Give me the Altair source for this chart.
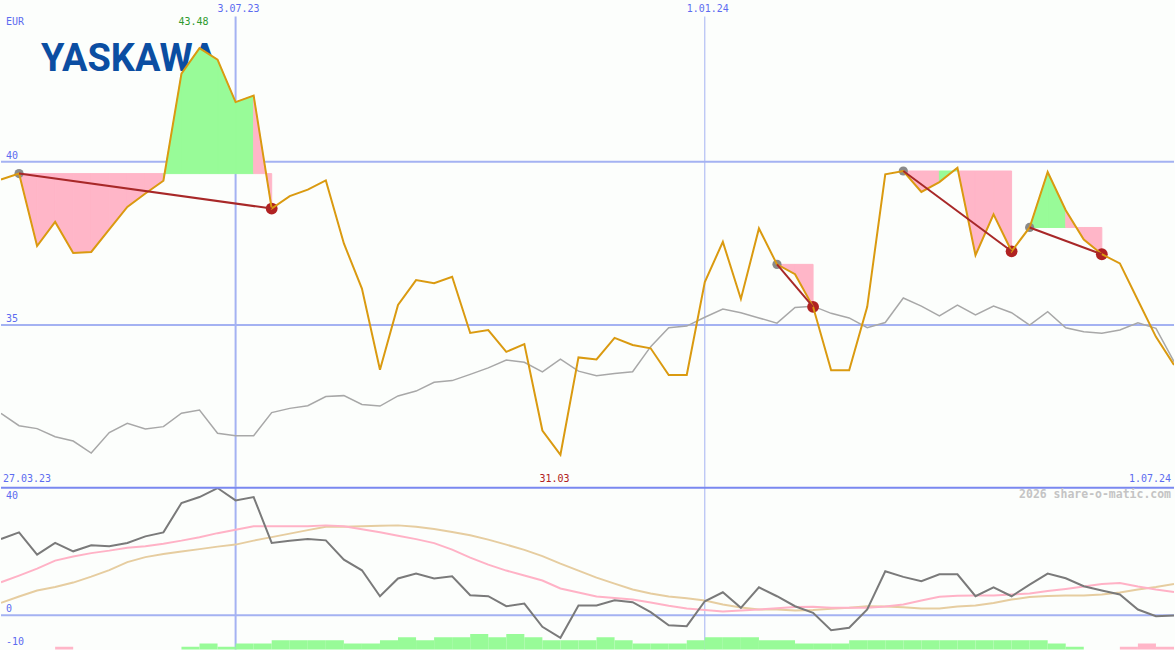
import altair as alt
import pandas as pd

# ---------------- weekly data (first week starts 3 Apr 2023) ----------------
price = [39.46, 39.64, 37.42, 38.16, 37.21, 37.24, 37.93, 38.62, 39.03, 39.42,
         42.70, 43.48, 43.13, 41.83, 42.03, 38.57, 38.95, 39.15, 39.43, 37.50,
         36.12, 33.63, 35.62, 36.38, 36.28, 36.48, 34.76, 34.85, 34.18, 34.42,
         31.77, 31.03, 34.01, 33.95, 34.61, 34.39, 34.29, 33.47, 33.47, 36.32,
         37.55, 35.80, 37.96, 36.86, 36.56, 35.56, 33.62, 33.62, 35.56, 39.62,
         39.72, 39.08, 39.38, 39.82, 37.14, 38.39, 37.26, 37.99, 39.69, 38.52,
         37.62, 37.17, 36.89, 35.76, 34.64, 33.78]

bench = [32.30, 31.92, 31.83, 31.58, 31.45, 31.08, 31.71, 31.99, 31.82, 31.89,
         32.30, 32.40, 31.69, 31.61, 31.61, 32.32, 32.45, 32.53, 32.81, 32.84,
         32.57, 32.52, 32.83, 32.98, 33.25, 33.30, 33.49, 33.69, 33.93, 33.86,
         33.57, 33.96, 33.59, 33.45, 33.52, 33.57, 34.34, 34.92, 34.97, 35.24,
         35.49, 35.38, 35.22, 35.06, 35.54, 35.58, 35.36, 35.22, 34.92, 35.08,
         35.83, 35.58, 35.28, 35.61, 35.31, 35.58, 35.38, 35.00, 35.41, 34.92,
         34.80, 34.75, 34.85, 35.07, 34.90, 33.88]

osc = [23.84, 25.90, 18.94, 22.59, 19.97, 21.84, 21.53, 22.59, 24.65, 25.90,
       35.07, 36.94, 39.75, 35.88, 36.94, 22.59, 23.31, 23.84, 23.40, 17.38,
       14.04, 5.93, 11.50, 13.01, 11.45, 12.17, 6.24, 5.93, 2.81, 3.65,
       -3.62, -7.05, 3.03, 3.03, 4.68, 4.06, 0.94, -3.12, -3.43, 4.37,
       7.18, 2.31, 8.74, 5.93, 2.81, 0.75, -4.68, -3.93, 1.78, 13.73,
       11.98, 10.61, 12.79, 12.79, 5.93, 8.74, 5.93, 9.58, 13.01, 11.54,
       9.05, 7.71, 6.46, 1.78, -0.31, -0.09]

osc_fast = [10.30, 12.39, 14.57, 17.07, 18.32, 19.41, 20.19, 21.12, 21.59, 22.37,
            23.31, 24.40, 25.65, 26.74, 27.77, 27.77, 27.77, 27.83, 28.08, 27.83,
            26.90, 25.96, 24.87, 23.78, 22.53, 20.50, 18.00, 15.82, 13.95, 12.39,
            10.83, 8.35, 7.10, 5.85, 5.38, 4.91, 3.98, 2.93, 2.09, 1.62,
            1.15, 1.47, 1.78, 2.18, 2.56, 2.62, 2.34, 2.31, 2.34, 2.71,
            3.34, 4.59, 5.74, 6.05, 6.15, 6.15, 6.46, 6.77, 7.55, 8.21,
            8.96, 9.73, 10.05, 8.96, 8.02, 7.24]

osc_slow = [3.87, 5.83, 7.71, 8.80, 10.20, 12.07, 14.10, 16.60, 18.16, 19.10,
            19.88, 20.66, 21.44, 22.07, 23.31, 24.41, 25.50, 26.59, 27.68, 27.68,
            27.83, 27.99, 28.08, 27.68, 26.96, 26.02, 25.02, 23.62, 22.07, 20.41,
            18.47, 16.13, 13.95, 11.76, 9.89, 8.02, 6.77, 5.83, 5.30, 4.59,
            3.34, 2.40, 1.78, 1.78, 1.47, 1.62, 2.00, 2.31, 2.81, 2.71,
            2.46, 2.09, 2.09, 2.71, 3.03, 3.81, 4.90, 5.68, 5.99, 6.15,
            6.15, 6.46, 7.08, 8.02, 8.80, 9.73]

# weekly histogram (one bar per week interval), sign gives the colour
hist = [0, 0, 0, -1, 0, 0, 0, 0, 0, 0,
        1, 2, 1, 2, 2, 3, 3, 3, 3, 2,
        2, 3, 4, 3, 4, 4, 5, 4, 5, 4,
        3, 3, 3, 4, 3, 2, 2, 2, 3, 4,
        4, 4, 3, 3, 2, 2, 2, 3, 3, 3,
        3, 3, 3, 3, 3, 3, 3, 3, 2, 1,
        0, 0, -1, -2, -1]

# trades: (entry week, exit week)
trades = [(1, 15), (43, 45), (50, 56), (57, 61)]

price_ticks = [40, 35]
osc_ticks = [40, 0, -10]
date_lines = [13, 39]
date_labels = ["3.07.23", "1.01.24"]
date_line_widths = [2, 1]
range_start, range_end = "27.03.23", "1.07.24"

weeks = list(range(len(price)))

# ---------------- styling ----------------
W, TOP_H, BOT_H = 1175, 487, 163
BG = "#FCFEFC"
GRID = "#A4B2F2"
SEP = "#7A88F0"
LABEL = "#5C6CF0"
ORANGE = "#DA9A10"
BENCH = "#A8A8A8"
GREEN = "#98FB98"
PINK = "#FFB6C8"
TRADE = "#A82828"
MONO = "DejaVu Sans Mono"

xs = alt.Scale(domain=[0, 65], nice=False, zero=False)
ytop = alt.Scale(domain=[30.05, 44.94], nice=False, zero=False)
ybot = alt.Scale(domain=[-10.70, 40.16], nice=False, zero=False)
HIST_BASE = -10.85


def X(field="w"):
    return alt.X(f"{field}:Q", scale=xs, axis=None)


def YT(field):
    return alt.Y(f"{field}:Q", scale=ytop, axis=None)


def YB(field):
    return alt.Y(f"{field}:Q", scale=ybot, axis=None)


series = pd.DataFrame({"w": weeks, "price": price, "bench": bench,
                       "osc": osc, "fast": osc_fast, "slow": osc_slow})

# per-segment fills between the price and the entry level of each trade
fill_rows, trade_rows, entry_rows, exit_rows = [], [], [], []
for t, (s, e) in enumerate(trades):
    lvl = price[s]
    for k in range(s, e):
        tone = "up" if price[k + 1] >= lvl else "down"
        for j in (k, k + 1):
            fill_rows.append({"seg": f"{t}-{k}", "w": j, "p": price[j], "lvl": lvl, "tone": tone})
    trade_rows += [{"t": t, "w": s, "p": price[s]}, {"t": t, "w": e, "p": price[e]}]
    entry_rows.append({"w": s, "p": price[s]})
    exit_rows.append({"w": e, "p": price[e]})

fills = pd.DataFrame(fill_rows)
trade_df = pd.DataFrame(trade_rows)
entry_df = pd.DataFrame(entry_rows)
exit_df = pd.DataFrame(exit_rows)

dates_df = pd.DataFrame({"w": date_lines, "label": date_labels, "sw": date_line_widths})

hist_df = pd.DataFrame([{"w": i, "w2": i + 1, "lo": HIST_BASE, "hi": HIST_BASE + abs(v),
                         "tone": "up" if v > 0 else "down"}
                        for i, v in enumerate(hist) if v != 0])

imax = price.index(max(price))
imin = price.index(min(price))
extremes = pd.DataFrame({"w": [imax, imin],
                         "label": [f"{price[imax]:.2f}", f"{price[imin]:.2f}"],
                         "ypix": [21, 479],
                         "col": ["#2E9A2E", "#B02020"]})

tone_scale = alt.Scale(domain=["up", "down"], range=[GREEN, PINK])

# ---------------- price panel ----------------
hgrid = alt.Chart(pd.DataFrame({"v": price_ticks})).mark_rule(
    color=GRID, strokeWidth=2).encode(y=YT("v"))

vgrid_top = alt.Chart(dates_df).mark_rule(color=GRID).encode(
    x=X(), y=alt.value(16), y2=alt.value(TOP_H),
    strokeWidth=alt.StrokeWidth("sw:Q", scale=None))

logo = alt.Chart(pd.DataFrame({"t": ["YASKAWA"]})).mark_text(
    font="Roboto", fontWeight="bold", fontSize=38, color="#0B4EA2",
    align="left", baseline="alphabetic").encode(
    x=alt.value(40), y=alt.value(71), text="t:N")

fill_layer = alt.Chart(fills).mark_area(clip=True, opacity=1, strokeWidth=1).encode(
    x=X(), y=YT("p"), y2="lvl:Q", detail="seg:N",
    color=alt.Color("tone:N", scale=tone_scale, legend=None),
    stroke=alt.Stroke("tone:N", scale=tone_scale, legend=None))

bench_line = alt.Chart(series).mark_line(
    color=BENCH, strokeWidth=1.5, clip=True).encode(x=X(), y=YT("bench"))

price_line = alt.Chart(series).mark_line(
    color=ORANGE, strokeWidth=2, clip=True).encode(x=X(), y=YT("price"))

entries = alt.Chart(entry_df).mark_circle(
    color="#8A8A8A", size=85, opacity=1).encode(x=X(), y=YT("p"))
exits = alt.Chart(exit_df).mark_circle(
    color="#B02222", size=140, opacity=1).encode(x=X(), y=YT("p"))

trade_lines = alt.Chart(trade_df).mark_line(
    color=TRADE, strokeWidth=2).encode(x=X(), y=YT("p"), detail="t:N")

tick_labels_top = alt.Chart(pd.DataFrame({"v": price_ticks, "label": [str(v) for v in price_ticks]})).mark_text(
    font=MONO, fontSize=10, color=LABEL, align="left", baseline="middle", dy=-6).encode(
    x=alt.value(5), y=YT("v"), text="label:N")

date_text_top = alt.Chart(dates_df).mark_text(
    font=MONO, fontSize=10, color=LABEL, align="center", baseline="middle", dx=3).encode(
    x=X(), y=alt.value(8), text="label:N")

corner_text = alt.Chart(pd.DataFrame({
    "label": ["EUR", range_start], "xpix": [5, 2], "ypix": [21, 479]})).mark_text(
    font=MONO, fontSize=10, color=LABEL, align="left", baseline="middle").encode(
    x=alt.X("xpix:Q", scale=None), y=alt.Y("ypix:Q", scale=None), text="label:N")

end_text = alt.Chart(pd.DataFrame({"label": [range_end]})).mark_text(
    font=MONO, fontSize=10, color=LABEL, align="right", baseline="middle").encode(
    x=alt.value(1172), y=alt.value(479), text="label:N")

extreme_text = alt.Chart(extremes).mark_text(
    font=MONO, fontSize=10, align="center", baseline="middle", dx=-6).encode(
    x=X(), y=alt.Y("ypix:Q", scale=None), text="label:N",
    color=alt.Color("col:N", scale=None))

top = alt.layer(
    hgrid, vgrid_top, logo, fill_layer, bench_line, entries, exits,
    price_line, trade_lines, tick_labels_top, date_text_top, corner_text,
    end_text, extreme_text
).properties(width=W, height=TOP_H)

# ---------------- oscillator panel ----------------
zero_rule = alt.Chart(pd.DataFrame({"v": [0]})).mark_rule(
    color=GRID, strokeWidth=2).encode(y=YB("v"))

vgrid_bot = alt.Chart(dates_df).mark_rule(color=GRID).encode(
    x=X(), y=alt.value(0), y2=alt.value(BOT_H),
    strokeWidth=alt.StrokeWidth("sw:Q", scale=None))

bars = alt.Chart(hist_df).mark_rect(clip=True).encode(
    x=X(), x2="w2:Q", y=YB("lo"), y2="hi:Q",
    color=alt.Color("tone:N", scale=tone_scale, legend=None))

slow_line = alt.Chart(series).mark_line(
    color="#E6CDA0", strokeWidth=2, clip=True).encode(x=X(), y=YB("slow"))
fast_line = alt.Chart(series).mark_line(
    color="#FFB2C6", strokeWidth=2, clip=True).encode(x=X(), y=YB("fast"))
osc_line = alt.Chart(series).mark_line(
    color="#7A7A7A", strokeWidth=2, clip=True).encode(x=X(), y=YB("osc"))

sep_rule = alt.Chart(pd.DataFrame({"v": [40]})).mark_rule(
    color=SEP, strokeWidth=3, clip=True).encode(y=YB("v"))

# tick labels of the oscillator: first sits below its line, the others above
osc_label_layers = []
for v, off in zip(osc_ticks, [9, -6, -5]):
    osc_label_layers.append(
        alt.Chart(pd.DataFrame({"v": [v], "label": [str(v)]})).mark_text(
            font=MONO, fontSize=10, color=LABEL, align="left", baseline="middle", dy=off).encode(
            x=alt.value(5), y=YB("v"), text="label:N"))

watermark = alt.Chart(pd.DataFrame({"t": ["2026 share-o-matic.com"]})).mark_text(
    font=MONO, fontSize=11.5, fontWeight="bold", color="#C4C4C4",
    align="right", baseline="middle").encode(
    x=alt.value(1172), y=alt.value(8), text="t:N")

bottom = alt.layer(
    zero_rule, vgrid_bot, bars, slow_line, fast_line, osc_line, sep_rule,
    *osc_label_layers, watermark
).properties(width=W, height=BOT_H)

chart = alt.vconcat(top, bottom, spacing=0, bounds="flush").properties(
    padding=0, background=BG
).configure_view(strokeWidth=0)

chart.save("out.html", embed_options={"renderer": "svg", "actions": False})
